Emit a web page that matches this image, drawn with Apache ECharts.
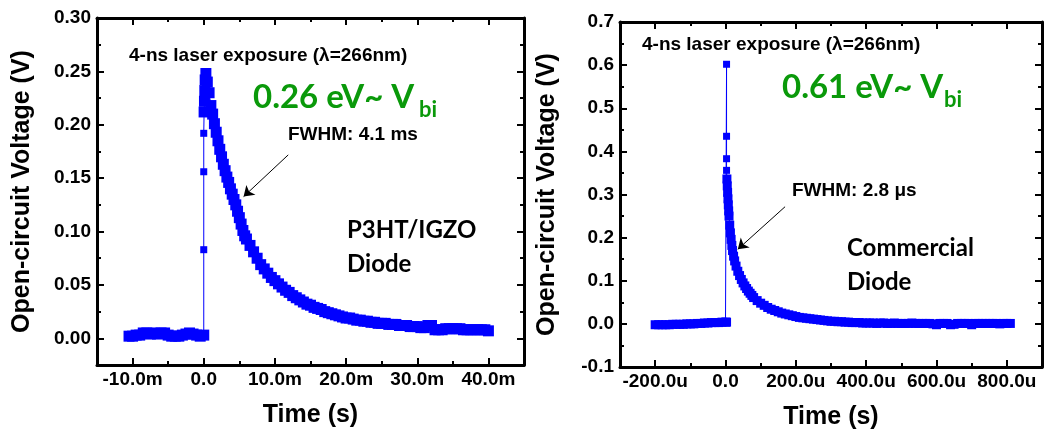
<!DOCTYPE html>
<html>
<head>
<meta charset="utf-8">
<script src="https://cdn.jsdelivr.net/npm/echarts@6/dist/echarts.min.js"></script>
<style>
html,body{margin:0;padding:0;background:#fff;}
#chart{width:1045px;height:437px;}
</style>
</head>
<body>
<div id="chart"></div>
<script>
// ---------- Left panel: P3HT/IGZO diode (time in ms, voltage in V) ----------
const leftTime = [
  -10.5,-10,-9.5,-9,-8.5,-8,-7.5,-7,-6.5,-6,-5.5,-5,-4.5,-4,-3.5,-3,-2.5,-2,-1.5,-1,-0.5,0,
  0,0,0,
  0.05,0.1,0.15,0.2,0.3,
  0.5,0.75,1,1.25,1.5,1.75,2,2.25,2.5,2.75,3,3.25,3.5,3.75,4,4.25,4.5,4.75,5,5.25,5.5,5.75,
  6,6.5,7,7.5,8,8.5,9,9.5,10,10.5,11,11.5,12,12.5,13,13.5,14,14.5,15,15.5,16,16.5,17,17.5,
  18,18.5,19,19.5,20,20.5,21,21.5,22,22.5,23,23.5,24,24.5,25,25.5,26,26.5,27,27.5,28,28.5,
  29,29.5,30,30.5,31,31.5,32,32.5,33,33.5,34,34.5,35,35.5,36,36.5,37,37.5,38,38.5,39,39.5,40
];
const leftVolt = [
  0.002,0.002,0.003,0.003,0.005,0.005,0.004,0.005,0.004,0.005,0.005,0.003,0.002,0.002,0.002,0.003,0.004,0.005,0.004,0.003,0.002,0.003,
  0.083,0.156,0.192,
  0.212,0.222,0.232,0.242,0.248,
  0.240,0.230,0.218,0.210,0.201,0.193,0.185,0.177,0.170,0.163,0.157,0.151,0.146,0.140,0.135,0.130,0.125,0.119,0.113,0.107,0.101,0.096,
  0.093,0.087,0.081,0.075,0.069,0.065,0.061,0.057,0.054,0.051,0.048,0.045,0.043,0.040,0.038,0.036,0.034,0.032,0.031,0.029,0.028,0.027,0.025,0.024,
  0.023,0.022,0.021,0.020,0.019,0.019,0.018,0.017,0.017,0.016,0.016,0.015,0.015,0.014,0.014,0.014,0.013,0.013,0.013,0.012,0.012,0.012,
  0.011,0.011,0.011,0.010,0.010,0.012,0.012,0.008,0.008,0.008,0.009,0.009,0.009,0.009,0.009,0.008,0.008,0.008,0.008,0.008,0.008,0.008,0.007
];
const leftXLabels = [-10, 0, 10, 20, 30, 40];
const leftYLabels = [0, 0.05, 0.10, 0.15, 0.20, 0.25, 0.30];

// ---------- Right panel: commercial diode (time in µs, voltage in V) ----------
const rightTime = [
  -200,-190,-180,-170,-160,-150,-140,-130,-120,-110,-100,-90,-80,-70,-60,-50,-40,-30,-20,-10,0,
  3,3,3,3,3,
  4,5,6,7,8,9,10,12,14,16,18,20,23,26,30,35,40,45,50,55,60,65,70,75,80,
  90,100,110,120,130,140,150,160,170,180,190,200,210,220,230,240,250,260,270,280,290,300,
  310,320,330,340,350,360,370,380,390,400,
  410,420,430,440,450,460,470,480,490,500,
  510,520,530,540,550,560,570,580,590,600,
  610,620,630,640,650,660,670,680,690,700,
  710,720,730,740,750,760,770,780,790,800,810
];
const rightVolt = [
  -0.002,-0.002,-0.002,-0.002,-0.002,-0.001,-0.001,-0.001,-0.001,0.000,0.000,0.000,0.001,0.001,0.002,0.002,0.003,0.003,0.003,0.004,0.004,
  0.004,0.602,0.435,0.383,0.356,
  0.336,0.320,0.305,0.290,0.276,0.262,0.250,0.229,0.211,0.196,0.182,0.170,0.157,0.146,0.134,0.122,0.112,0.103,0.095,0.088,0.082,0.076,0.071,0.066,0.061,
  0.054,0.048,0.043,0.038,0.034,0.031,0.028,0.025,0.023,0.021,0.019,0.017,0.015,0.014,0.013,0.012,0.011,0.010,0.009,0.008,0.007,0.006,
  0.006,0.005,0.005,0.004,0.004,0.003,0.003,0.003,0.002,0.002,
  0.002,0.002,0.001,0.002,0.002,0.001,0.001,0.002,0.001,0.001,
  0.001,0.001,0.002,0.001,0.001,0.001,0.001,0.001,0.000,-0.002,
  0.001,0.001,0.001,-0.002,-0.001,0.001,0.001,0.001,0.001,-0.002,
  0.001,0.001,0.001,0.001,0.001,0.001,0.001,0.000,0.001,0.001,0.001
];
const rightXLabels = [-200, 0, 200, 400, 600, 800];
const rightYLabels = [-0.1, 0, 0.1, 0.2, 0.3, 0.4, 0.5, 0.6, 0.7];

// ---------- helpers ----------
const ARIAL = '"Liberation Sans", Arial, sans-serif';
const CALI = 'Lato, "Open Sans", sans-serif';
const GREEN = '#0a990a';
const BLUE = '#0000ff';

// Builds 4 axes for one side pair: [main(with line, major ticks, labels), minor, mirror-major, mirror-minor]
function axisSet(kind, gridIndex, min, max, minorInterval, labels, fmt, name, nameGap, labelMargin) {
  const posA = kind === 'x' ? 'bottom' : 'left';
  const posB = kind === 'x' ? 'top' : 'right';
  const base = {type: 'value', gridIndex, min, max, interval: minorInterval, splitLine: {show: false}};
  const tick = (len) => ({show: true, inside: true, length: len, lineStyle: {color: '#000', width: 2}});
  const major = (pos, withLabels) => Object.assign({}, base, {
    position: pos,
    axisLine: {show: true, onZero: false, lineStyle: {color: '#000', width: 3}},
    axisTick: Object.assign(tick(7), {customValues: labels}),
    axisLabel: withLabels ? {
      show: true, margin: labelMargin, color: '#000', fontFamily: ARIAL, fontWeight: 'bold', fontSize: 19,
      customValues: labels, formatter: fmt
    } : {show: false}
  }, withLabels ? {
    name, nameLocation: 'middle', nameGap,
    nameTextStyle: {fontFamily: ARIAL, fontWeight: 'bold', fontSize: 25, color: '#000'}
  } : {});
  const minor = (pos) => Object.assign({}, base, {
    position: pos,
    axisLine: {show: false, onZero: false},
    axisTick: tick(4),
    axisLabel: {show: false}
  });
  return [major(posA, true), minor(posA), major(posB, false), minor(posB)];
}

const fmtX = unit => v => (Math.abs(v) < 1e-9 ? '0.0' : v.toFixed(1) + unit);
const fmtY = d => v => v.toFixed(d);

const xa = axisSet('x', 0, -15, 45, 5, leftXLabels, fmtX('m'), 'Time (s)', 38, 5)
  .concat(axisSet('x', 1, -300, 900, 100, rightXLabels, fmtX('u'), 'Time (s)', 38, 5));
const ya = axisSet('y', 0, -0.025, 0.30, 0.025, leftYLabels, fmtY(2), 'Open-circuit Voltage (V)', 62, 6)
  .concat(axisSet('y', 1, -0.1, 0.7, 0.05, rightYLabels, fmtY(1), 'Open-circuit Voltage (V)', 60, 6));

const leftData = leftTime.map((t, i) => [t, leftVolt[i]]);
const rightData = rightTime.map((t, i) => [t, rightVolt[i]]);

function txt(x, y, text, font, size, color) {
  return {
    type: 'text', x, y, z: 100,
    style: {text, fontFamily: font, fontSize: size, fontWeight: 'bold',
            fill: color || '#000', textAlign: 'left', textVerticalAlign: 'middle'}
  };
}

function arrowSeries(xi, yi, from, to) {
  return {
    type: 'line', xAxisIndex: xi, yAxisIndex: yi, data: [], z: 20,
    markLine: {
      silent: true, symbol: ['none', 'arrow'], symbolSize: 10,
      label: {show: false},
      lineStyle: {color: '#000', width: 1, type: 'solid'},
      data: [[{coord: from}, {coord: to}]]
    }
  };
}

const chart = echarts.init(document.getElementById('chart'), null, {renderer: 'canvas'});
chart.setOption({
  animation: false,
  backgroundColor: '#fff',
  grid: [
    {left: 97, top: 18, width: 427, height: 347, containLabel: false},
    {left: 620, top: 22, width: 422, height: 345, containLabel: false}
  ],
  xAxis: xa,
  yAxis: ya,
  series: [
    {
      type: 'line', xAxisIndex: 0, yAxisIndex: 0, data: leftData, z: 2,
      symbol: 'rect', showAllSymbol: true,
      symbolSize: v => (v[0] <= 0.05 && v[1] > 0.05 && v[1] < 0.2) ? 7 : 11,
      lineStyle: {color: BLUE, width: 1}, itemStyle: {color: BLUE}
    },
    {
      type: 'line', xAxisIndex: 4, yAxisIndex: 4, data: rightData, z: 2,
      symbol: 'rect', showAllSymbol: true,
      symbolSize: v => (v[0] === 3 && v[1] > 0.35) ? 7 : 9,
      lineStyle: {color: BLUE, width: 1}, itemStyle: {color: BLUE}
    },
    arrowSeries(0, 0, [11.87, 0.1718], [5.6, 0.1327]),
    arrowSeries(4, 4, [169.4, 0.2717], [35, 0.173])
  ],
  graphic: [
    txt(129, 56, '4-ns laser exposure (\u03bb=266nm)', ARIAL, 19),
    txt(642, 45, '4-ns laser exposure (\u03bb=266nm)', ARIAL, 19),
    txt(253, 97, '0.26 eV~ V', CALI, 33, GREEN),
    txt(419, 110, 'bi', CALI, 22, GREEN),
    txt(782, 87, '0.61 eV~ V', CALI, 33, GREEN),
    txt(944, 100, 'bi', CALI, 22, GREEN),
    txt(288, 135, 'FWHM: 4.1 ms', ARIAL, 19),
    txt(792, 191, 'FWHM: 2.8 \u03bcs', ARIAL, 19),
    txt(347, 230, 'P3HT/IGZO', CALI, 24),
    txt(347, 264, 'Diode', CALI, 24),
    txt(847, 248, 'Commercial', CALI, 24),
    txt(847, 282, 'Diode', CALI, 24)
  ]
});
</script>
</body>
</html>
